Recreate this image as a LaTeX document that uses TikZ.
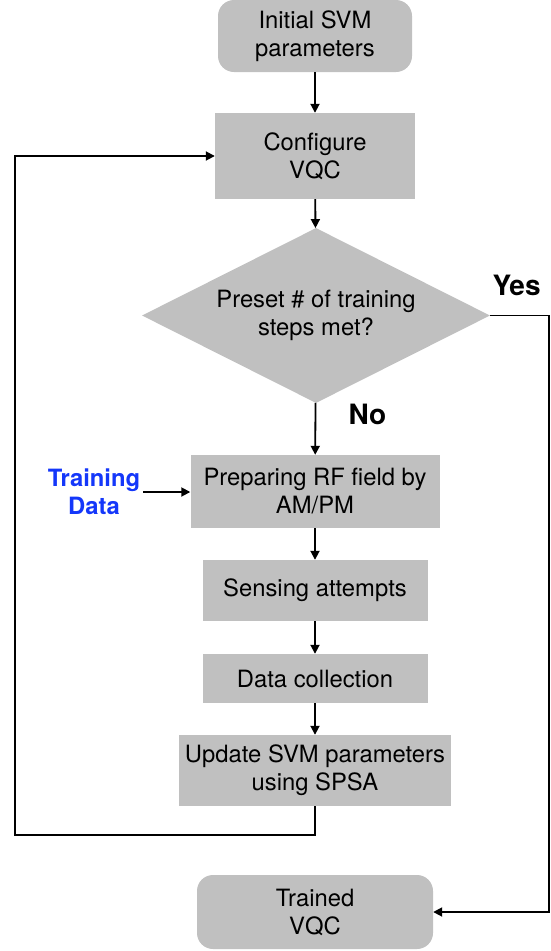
\documentclass[tikz,border=0pt]{standalone}
\usepackage{fontspec}
\setmainfont{TeX Gyre Heros}
\usepackage{tikz}
\usetikzlibrary{shapes.geometric, arrows.meta}
\usepackage{xcolor}
\definecolor{caixa}{RGB}{192,192,192}
\definecolor{azul}{RGB}{20,55,250}

\begin{document}
\begin{tikzpicture}[x=1pt, y=-1pt,
    bloco/.style={fill=caixa, inner sep=0pt, align=center,
      font=\fontsize{23.8}{28}\selectfont},
    terminal/.style={bloco, rounded corners=16pt},
    decisao/.style={bloco, diamond, aspect=2},
    rotulo/.style={font=\fontsize{28}{30}\selectfont\bfseries},
    seta/.style={line width=1.8pt, -{Triangle[length=9pt, width=9pt]}}]
    \useasboundingbox (0,0) rectangle (551,951);
    % Caixas
    \node[terminal, minimum width=194pt, minimum height=72pt] (init) at (315,36) {Initial SVM\\parameters};
    \node[bloco, minimum width=200pt, minimum height=86pt] (config) at (315,156) {Configure\\VQC};
    \node[decisao, minimum width=348pt, minimum height=175pt] (check) at (316,315.5) {Preset \# of training\\steps met?};
    \node[bloco, minimum width=249pt, minimum height=73pt] (prep) at (315,491.5) {Preparing RF field by\\AM/PM};
    \node[bloco, minimum width=225pt, minimum height=61pt] (sense) at (315,590.5) {Sensing attempts};
    \node[bloco, minimum width=225pt, minimum height=49pt] (collect) at (315,678.5) {Data collection};
    \node[bloco, minimum width=272pt, minimum height=71pt] (update) at (315,770.5) {Update SVM parameters\\using SPSA};
    \node[terminal, minimum width=236pt, minimum height=74pt] (trained) at (315,912) {Trained\\VQC};
    \node[text=azul, align=center, inner sep=3pt, font=\fontsize{23.8}{28}\selectfont\bfseries] (data) at (94,492) {Training\\Data};
    % Pontos de passagem
    \coordinate (yesturn) at (549,315.5);
    \coordinate (loopturn) at (15,835);
    % Setas
    \draw[seta] (init) -- (config);
    \draw[seta] (config) -- (check);
    \draw[seta] (check) -- node[rotulo, pos=0.22, right=29pt] {No} (prep);
    \draw[seta] (prep) -- (sense);
    \draw[seta] (sense) -- (collect);
    \draw[seta] (collect) -- (update);
    \draw[seta] (data.east) -- (data.east -| prep.west);
    \draw[seta] (check.east) -- node[rotulo, above=16pt, xshift=-3pt] {Yes} (yesturn) |- (trained.east);
    \draw[seta] (update) |- (loopturn) |- (config.west);
\end{tikzpicture}
\end{document}
